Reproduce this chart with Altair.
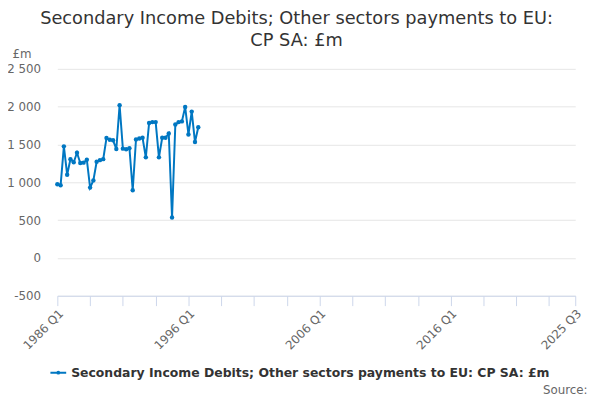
import altair as alt
import pandas as pd

series_name = "Secondary Income Debits; Other sectors payments to EU: CP SA: £m"
start_year = 1986
values = [975, 960, 1475, 1100, 1305, 1265, 1390, 1255, 1260, 1298,
          930, 1025, 1272, 1293, 1306, 1585, 1562, 1555, 1440, 2020,
          1445, 1437, 1450, 895, 1567, 1580, 1588, 1330, 1785, 1796,
          1796, 1330, 1588, 1588, 1645, 535, 1765, 1796, 1805, 1996,
          1632, 1935, 1532, 1727]
periods = [f"{start_year + i // 4} Q{i % 4 + 1}" for i in range(len(values))]

tick_values = [1986 + 2.5 * k for k in range(16)] + [2025.5]
y_ticks = [-500, 0, 500, 1000, 1500, 2000, 2500]

def to_num(p):
    y, q = p.split(" Q")
    return int(y) + (int(q) - 1) / 4

df = pd.DataFrame({
    "period": periods,
    "t": [to_num(p) for p in periods],
    "value": values,
    "series": series_name,
})

color = "#0077c2"
font = "DejaVu Sans"

x = alt.X("t:Q",
          scale=alt.Scale(domain=[1986, 2025.5], nice=False, zero=False),
          axis=alt.Axis(values=tick_values, grid=False,
                        domainColor="#ccd6eb", tickColor="#ccd6eb", tickSize=10,
                        labelAngle=-45, labelFontSize=12, labelColor="#666666",
                        labelFont=font, labelPadding=2,
                        labelExpr="datum.value == 2025.5 ? '2025 Q3' : ((datum.value - 1986) % 10 == 0 ? datum.value + ' Q1' : '')",
                        title="Source:", titleFont=font, titleFontSize=12,
                        titleFontWeight="normal", titleColor="#666666",
                        titleAlign="right", titleBaseline="middle",
                        titleX=537, titleY=95))
y = alt.Y("value:Q",
          scale=alt.Scale(domain=[-500, 2500], nice=False),
          axis=alt.Axis(values=y_ticks, domain=False, ticks=False, tickSize=0,
                        gridColor="#e6e6e6", labelFontSize=12, labelColor="#666666",
                        labelFont=font, labelPadding=17,
                        labelExpr="(datum.value < 0 ? '-' : '') + replace(format(abs(datum.value), ','), ',', ' ')",
                        title="£m", titleAngle=0, titleFont=font, titleFontSize=12,
                        titleFontWeight="normal", titleColor="#666666",
                        titleAlign="left", titleBaseline="middle",
                        titleX=-46, titleY=-15))

legend_symbol = "M-1,0L1,0M-0.12,0A0.12,0.12 0 1,0 0.12,0A0.12,0.12 0 1,0 -0.12,0Z"
col = alt.Color("series:N", scale=alt.Scale(range=[color]),
                legend=alt.Legend(orient="none", legendX=-8, legendY=299,
                                  title=None, symbolType=legend_symbol,
                                  symbolSize=256, symbolStrokeWidth=2,
                                  symbolFillColor=color, symbolStrokeColor=color,
                                  labelFont=font, labelFontSize=12.6,
                                  labelFontWeight="bold", labelColor="#333333",
                                  labelLimit=600))

base = alt.Chart(df)
line = base.mark_line(strokeWidth=2).encode(x=x, y=y, color=col)
pts = base.mark_circle(size=20, opacity=1).encode(x=x, y=y, color=alt.Color("series:N", scale=alt.Scale(range=[color]), legend=None))

chart = alt.layer(line, pts).properties(
    width=525, height=230,
    title=alt.TitleParams(
        text=["Secondary Income Debits; Other sectors payments to EU:", "CP SA: £m"],
        font=font, fontSize=18, fontWeight="normal", color="#333333",
        anchor="middle", dx=-20, offset=-2, lineHeight=22),
    autosize=alt.AutoSizeParams(type="none"),
    padding={"left": 50, "top": 59, "right": 17, "bottom": 103},
).configure_view(stroke=None)

chart.save("out.html", embed_options={"renderer": "svg", "actions": False})
